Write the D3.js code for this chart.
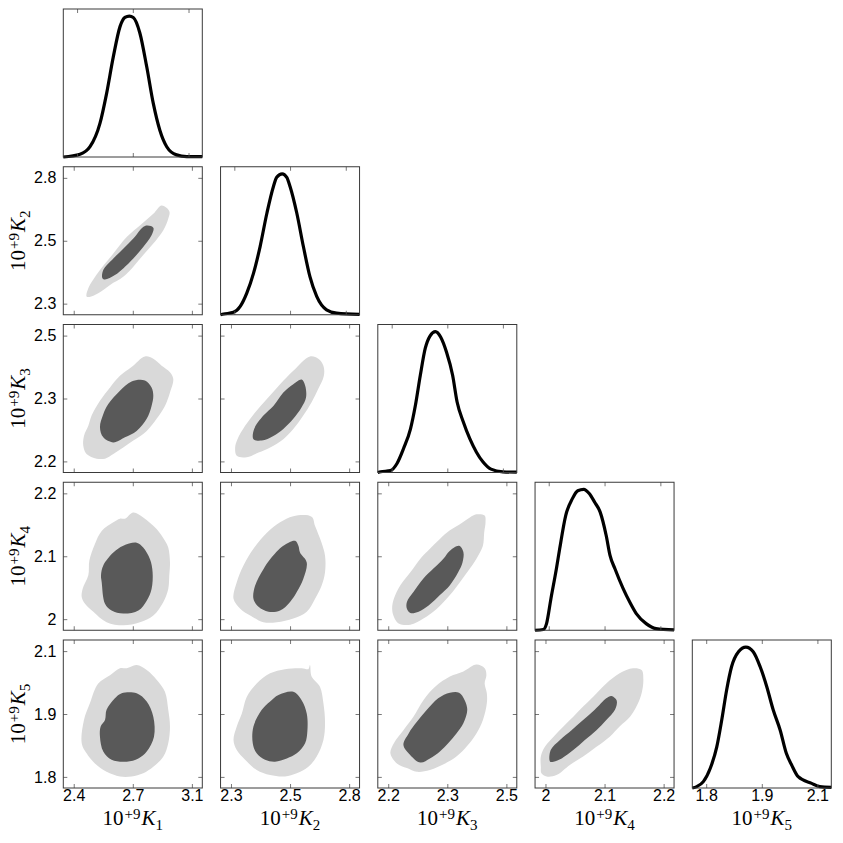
<!DOCTYPE html>
<html>
<head>
<meta charset="utf-8">
<script src="https://cdn.jsdelivr.net/npm/d3@7"></script>
<style>
  body { margin: 0; background: #fff; }
</style>
</head>
<body>
<div id="chart"></div>
<script>
// Corner plot of five rate constants (10^9 K_i): marginals on the diagonal,
// 68% / 95% credible regions below it.

const subscripts = ["1", "2", "3", "4", "5"];

// tick positions (data units) and the rounded labels printed under them
const tickValues = [
    [2.40, 2.74, 3.08],
    [2.275, 2.53, 2.785],
    [2.184, 2.32, 2.456],
    [1.998, 2.10, 2.202],
    [1.784, 1.92, 2.056]
];
const tickLabels = [
    ["2.4", "2.7", "3.1"],
    ["2.3", "2.5", "2.8"],
    ["2.2", "2.3", "2.5"],
    ["2", "2.1", "2.2"],
    ["1.8", "1.9", "2.1"]
];

// axis limits for the pair panels and (slightly wider) for the marginals
const pairDomains = [[2.34, 3.14], [2.23, 2.83], [2.16, 2.48], [1.98, 2.22], [1.76, 2.08]];
const diagDomains = [[2.316, 3.164], [2.212, 2.848], [2.150, 2.490], [1.973, 2.227], [1.750, 2.090]];

// marginal densities, [value, density / peak]
const densityK1 = [[2.316, 0], [2.418, 0.02], [2.479, 0.073], [2.54, 0.24], [2.58, 0.45], [2.621, 0.71],
    [2.662, 0.925], [2.692, 0.99], [2.719, 1.0], [2.743, 0.99], [2.783, 0.88], [2.825, 0.64],
    [2.865, 0.38], [2.905, 0.19], [2.947, 0.073], [3.007, 0.015], [3.069, 0.003], [3.164, 0.002]];
const densityK2 = [[2.212, 0], [2.226, 0.005], [2.271, 0.017], [2.302, 0.059], [2.332, 0.153], [2.363, 0.295],
    [2.393, 0.484], [2.424, 0.72], [2.454, 0.91], [2.469, 0.975], [2.494, 1.0], [2.515, 0.975], [2.53, 0.91],
    [2.561, 0.72], [2.591, 0.484], [2.621, 0.27], [2.652, 0.13], [2.697, 0.035], [2.743, 0.012], [2.848, 0.003]];
const densityK3 = [[2.15, 0], [2.157, 0.005], [2.181, 0.014], [2.197, 0.064], [2.213, 0.17], [2.23, 0.31],
    [2.242, 0.477], [2.254, 0.69], [2.266, 0.88], [2.278, 0.97], [2.291, 1.0], [2.304, 0.96], [2.318, 0.855],
    [2.333, 0.69], [2.344, 0.5], [2.359, 0.36], [2.375, 0.24], [2.391, 0.146], [2.407, 0.076],
    [2.427, 0.024], [2.456, 0.005], [2.49, 0.002]];
const densityK4 = [[1.973, 0], [1.988, 0.005], [1.994, 0.047], [2.002, 0.224], [2.012, 0.436], [2.018, 0.578],
    [2.029, 0.814], [2.041, 0.932], [2.051, 0.99], [2.062, 1.0], [2.072, 0.97], [2.082, 0.908],
    [2.092, 0.838], [2.103, 0.672], [2.11, 0.531], [2.119, 0.436], [2.134, 0.295], [2.146, 0.2],
    [2.158, 0.118], [2.176, 0.047], [2.194, 0.012], [2.227, 0.003]];
const densityK5 = [[1.75, 0], [1.761, 0.01], [1.777, 0.045], [1.794, 0.14], [1.81, 0.293], [1.822, 0.482],
    [1.834, 0.695], [1.846, 0.86], [1.863, 0.967], [1.881, 1.0], [1.899, 0.967], [1.916, 0.86],
    [1.932, 0.72], [1.948, 0.553], [1.965, 0.41], [1.98, 0.246], [1.993, 0.163], [2.009, 0.08],
    [2.042, 0.033], [2.062, 0.01], [2.09, 0.005]];

// credible regions, [x value, y value]; panel name is row-param then column-param
const k2k1Outer = [[2.474, 2.304], [2.484, 2.337], [2.551, 2.411], [2.628, 2.478], [2.705, 2.545], [2.781, 2.592],
    [2.858, 2.639], [2.906, 2.673], [2.95, 2.65], [2.944, 2.619], [2.915, 2.572], [2.858, 2.519], [2.8, 2.472],
    [2.743, 2.425], [2.685, 2.384], [2.609, 2.351], [2.541, 2.317], [2.49, 2.302]];
const k2k1Inner = [[2.565, 2.378], [2.57, 2.411], [2.628, 2.458], [2.685, 2.498], [2.743, 2.539], [2.81, 2.59],
    [2.858, 2.583], [2.848, 2.552], [2.8, 2.505], [2.743, 2.458], [2.685, 2.418], [2.637, 2.391], [2.58, 2.373]];

const k3k1Outer = [[2.532, 2.19], [2.474, 2.2], [2.455, 2.218], [2.459, 2.239], [2.484, 2.261], [2.503, 2.283],
    [2.551, 2.315], [2.609, 2.344], [2.666, 2.369], [2.733, 2.388], [2.81, 2.411], [2.858, 2.406],
    [2.906, 2.391], [2.954, 2.377], [2.973, 2.362], [2.954, 2.333], [2.925, 2.304], [2.877, 2.276],
    [2.82, 2.25], [2.743, 2.229], [2.685, 2.214], [2.628, 2.2], [2.58, 2.19]];
const k3k1Inner = [[2.551, 2.258], [2.57, 2.286], [2.599, 2.308], [2.666, 2.337], [2.733, 2.357], [2.81, 2.359],
    [2.848, 2.344], [2.858, 2.326], [2.848, 2.304], [2.82, 2.276], [2.762, 2.25], [2.695, 2.236],
    [2.628, 2.225], [2.57, 2.236]];

const k3k2Outer = [[2.3, 2.196], [2.293, 2.214], [2.303, 2.232], [2.336, 2.261], [2.379, 2.29], [2.43, 2.319],
    [2.487, 2.351], [2.544, 2.38], [2.616, 2.411], [2.652, 2.406], [2.674, 2.391], [2.676, 2.369],
    [2.652, 2.341], [2.623, 2.312], [2.587, 2.283], [2.544, 2.254], [2.501, 2.232], [2.444, 2.214],
    [2.394, 2.203], [2.343, 2.193]];
const k3k2Inner = [[2.372, 2.232], [2.375, 2.254], [2.415, 2.283], [2.458, 2.304], [2.501, 2.333], [2.544, 2.351],
    [2.58, 2.361], [2.595, 2.348], [2.599, 2.322], [2.58, 2.301], [2.544, 2.276], [2.501, 2.254],
    [2.458, 2.239], [2.408, 2.229]];

const k4k1Outer = [[2.446, 2.034], [2.451, 2.047], [2.484, 2.069], [2.49, 2.093], [2.522, 2.12], [2.561, 2.141],
    [2.628, 2.155], [2.666, 2.161], [2.695, 2.161], [2.743, 2.171], [2.8, 2.163], [2.877, 2.144],
    [2.925, 2.125], [2.944, 2.114], [2.954, 2.09], [2.95, 2.069], [2.944, 2.047], [2.916, 2.026],
    [2.858, 2.004], [2.781, 1.993], [2.685, 1.988], [2.589, 1.993], [2.513, 2.01], [2.465, 2.023]];
const k4k1Inner = [[2.561, 2.058], [2.557, 2.069], [2.57, 2.085], [2.628, 2.106], [2.685, 2.117], [2.762, 2.122],
    [2.8, 2.114], [2.839, 2.095], [2.854, 2.074], [2.848, 2.047], [2.82, 2.028], [2.772, 2.012],
    [2.685, 2.007], [2.618, 2.012], [2.58, 2.023]];

const k4k2Outer = [[2.286, 2.031], [2.3, 2.058], [2.329, 2.085], [2.372, 2.112], [2.43, 2.138], [2.487, 2.155],
    [2.544, 2.165], [2.623, 2.164], [2.638, 2.149], [2.666, 2.122], [2.681, 2.101], [2.681, 2.074],
    [2.666, 2.052], [2.638, 2.031], [2.602, 2.01], [2.544, 1.999], [2.473, 1.993], [2.415, 1.993],
    [2.358, 2.004], [2.315, 2.015]];
const k4k2Inner = [[2.372, 2.031], [2.379, 2.052], [2.415, 2.079], [2.444, 2.095], [2.501, 2.117], [2.552, 2.125],
    [2.566, 2.117], [2.573, 2.106], [2.602, 2.09], [2.587, 2.063], [2.559, 2.042], [2.53, 2.026],
    [2.487, 2.012], [2.437, 2.01], [2.394, 2.018]];

const k4k3Outer = [[2.197, 2.002], [2.193, 2.015], [2.197, 2.031], [2.212, 2.053], [2.235, 2.074], [2.258, 2.096],
    [2.28, 2.112], [2.303, 2.128], [2.326, 2.142], [2.349, 2.152], [2.372, 2.163], [2.387, 2.168],
    [2.406, 2.166], [2.408, 2.155], [2.405, 2.139], [2.402, 2.117], [2.391, 2.101], [2.372, 2.08],
    [2.349, 2.058], [2.326, 2.037], [2.296, 2.015], [2.265, 1.999], [2.235, 1.989], [2.208, 1.991]];
const k4k3Inner = [[2.227, 2.015], [2.227, 2.026], [2.242, 2.042], [2.265, 2.064], [2.288, 2.08], [2.311, 2.096],
    [2.326, 2.109], [2.347, 2.117], [2.357, 2.107], [2.355, 2.09], [2.345, 2.074], [2.326, 2.053],
    [2.303, 2.037], [2.277, 2.02], [2.254, 2.01], [2.235, 2.008]];

const k5k1Outer = [[2.446, 1.857], [2.459, 1.907], [2.493, 1.943], [2.541, 1.986], [2.609, 2.004], [2.666, 2.019],
    [2.705, 2.019], [2.762, 2.026], [2.82, 2.015], [2.877, 1.994], [2.925, 1.968], [2.944, 1.929],
    [2.954, 1.893], [2.944, 1.857], [2.916, 1.828], [2.858, 1.806], [2.8, 1.792], [2.733, 1.785],
    [2.666, 1.785], [2.589, 1.795], [2.522, 1.813], [2.474, 1.835]];
const k5k1Inner = [[2.551, 1.871], [2.555, 1.893], [2.58, 1.907], [2.589, 1.929], [2.637, 1.954], [2.676, 1.965],
    [2.762, 1.965], [2.82, 1.947], [2.858, 1.914], [2.862, 1.871], [2.82, 1.839], [2.772, 1.824],
    [2.705, 1.817], [2.618, 1.821], [2.57, 1.839]];

const k5k2Outer = [[2.286, 1.864], [2.3, 1.893], [2.322, 1.921], [2.343, 1.957], [2.386, 1.986], [2.444, 2.008],
    [2.508, 2.017], [2.58, 2.019], [2.609, 2.017], [2.616, 2.026], [2.623, 2.001], [2.659, 1.979],
    [2.674, 1.943], [2.681, 1.9], [2.674, 1.864], [2.645, 1.828], [2.609, 1.806], [2.559, 1.792],
    [2.508, 1.785], [2.444, 1.788], [2.386, 1.799], [2.336, 1.821], [2.3, 1.842]];
const k5k2Inner = [[2.369, 1.857], [2.372, 1.893], [2.408, 1.929], [2.444, 1.947], [2.48, 1.961], [2.544, 1.968],
    [2.58, 1.95], [2.602, 1.921], [2.605, 1.885], [2.595, 1.857], [2.559, 1.835], [2.516, 1.824],
    [2.465, 1.817], [2.422, 1.821], [2.386, 1.835]];

const k5k3Outer = [[2.189, 1.835], [2.197, 1.857], [2.219, 1.885], [2.242, 1.914], [2.265, 1.95], [2.292, 1.979],
    [2.326, 2.001], [2.357, 2.012], [2.387, 2.027], [2.406, 2.019], [2.41, 2.004], [2.406, 1.986],
    [2.411, 1.965], [2.411, 1.943], [2.402, 1.907], [2.387, 1.878], [2.364, 1.849], [2.341, 1.828],
    [2.315, 1.813], [2.28, 1.799], [2.25, 1.795], [2.227, 1.803], [2.204, 1.813]];
const k5k3Inner = [[2.219, 1.853], [2.231, 1.878], [2.25, 1.903], [2.273, 1.929], [2.299, 1.954], [2.326, 1.966],
    [2.347, 1.966], [2.36, 1.95], [2.366, 1.929], [2.357, 1.9], [2.341, 1.878], [2.322, 1.857],
    [2.303, 1.839], [2.28, 1.824], [2.258, 1.815], [2.235, 1.831]];

const k5k4Outer = [[1.99, 1.806], [1.99, 1.828], [1.997, 1.849], [2.012, 1.871], [2.029, 1.893], [2.046, 1.914],
    [2.063, 1.936], [2.08, 1.957], [2.103, 1.986], [2.126, 2.008], [2.149, 2.019], [2.164, 2.015],
    [2.167, 1.994], [2.164, 1.965], [2.155, 1.936], [2.144, 1.914], [2.126, 1.893], [2.109, 1.871],
    [2.086, 1.849], [2.063, 1.828], [2.04, 1.81], [2.017, 1.788], [2.0, 1.785], [1.991, 1.792]];
const k5k4Inner = [[2.006, 1.817], [2.007, 1.842], [2.023, 1.864], [2.043, 1.885], [2.063, 1.907], [2.083, 1.929],
    [2.103, 1.954], [2.112, 1.959], [2.121, 1.949], [2.118, 1.929], [2.103, 1.907], [2.086, 1.885],
    [2.066, 1.864], [2.046, 1.842], [2.026, 1.824], [2.012, 1.817]];

const densities = [densityK1, densityK2, densityK3, densityK4, densityK5];
const pairPanels = [
    {row: 1, col: 0, outer: k2k1Outer, inner: k2k1Inner},
    {row: 2, col: 0, outer: k3k1Outer, inner: k3k1Inner},
    {row: 2, col: 1, outer: k3k2Outer, inner: k3k2Inner},
    {row: 3, col: 0, outer: k4k1Outer, inner: k4k1Inner},
    {row: 3, col: 1, outer: k4k2Outer, inner: k4k2Inner},
    {row: 3, col: 2, outer: k4k3Outer, inner: k4k3Inner},
    {row: 4, col: 0, outer: k5k1Outer, inner: k5k1Inner},
    {row: 4, col: 1, outer: k5k2Outer, inner: k5k2Inner},
    {row: 4, col: 2, outer: k5k3Outer, inner: k5k3Inner},
    {row: 4, col: 3, outer: k5k4Outer, inner: k5k4Inner}
];

// layout
const width = 843, height = 843;
const panelW = 139, panelH = 148;
const colLeft = j => 63.3 + j * 157.25;
const rowTop = i => 9 + i * 157.75;
const n = 5;

const svg = d3.select("#chart")
    .append("svg")
    .attr("width", width)
    .attr("height", height);

const tickFont = "'Liberation Sans', Arial, sans-serif";
const labelFont = "'Liberation Serif', 'Times New Roman', serif";

// small inward ticks, no domain line (the frame is drawn separately)
function styleAxis(g) {
    g.select(".domain").remove();
    g.selectAll(".tick line").attr("stroke", "#555").attr("stroke-width", 0.8);
    g.selectAll(".tick text")
        .attr("fill", "#000")
        .attr("font-family", tickFont)
        .attr("font-size", 16);
}

function paramLabel(sel, k) {
    const t = sel.append("text")
        .attr("font-family", labelFont)
        .attr("font-size", 21)
        .attr("fill", "#000")
        .attr("text-anchor", "middle");
    t.append("tspan").text("10");
    t.append("tspan").attr("font-size", 15).attr("dx", 1).attr("dy", -6).text("+9");
    t.append("tspan").attr("font-style", "italic").attr("dx", 1).attr("dy", 6).text("K");
    t.append("tspan").attr("font-size", 15).attr("dy", 5).text(subscripts[k]);
    return t;
}

function frame(g) {
    g.append("rect")
        .attr("width", panelW)
        .attr("height", panelH)
        .attr("fill", "none")
        .attr("stroke", "#3a3a3a")
        .attr("stroke-width", 1);
}

// diagonal: marginal densities
for (let i = 0; i < n; i++) {
    const g = svg.append("g").attr("transform", `translate(${colLeft(i)},${rowTop(i)})`);
    const x = d3.scaleLinear().domain(diagDomains[i]).range([0, panelW]);
    const y = d3.scaleLinear().domain([0, 1.05]).range([panelH, 0]);

    const line = d3.line()
        .x(d => x(d[0]))
        .y(d => y(d[1]))
        .curve(d3.curveMonotoneX);

    g.append("path")
        .datum(densities[i])
        .attr("fill", "none")
        .attr("stroke", "#000")
        .attr("stroke-width", 3.2)
        .attr("stroke-linejoin", "round")
        .attr("d", line);

    g.append("g")
        .call(d3.axisTop(x).tickValues(tickValues[i]).tickSize(-4).tickFormat(""))
        .call(styleAxis);
    g.append("g")
        .attr("transform", `translate(0,${panelH})`)
        .call(d3.axisBottom(x).tickValues(tickValues[i]).tickSize(-4).tickPadding(2)
            .tickFormat(i === n - 1 ? (d, k) => tickLabels[i][k] : ""))
        .call(styleAxis);

    frame(g);
}

// below the diagonal: 2D credible regions
pairPanels.forEach(p => {
    const g = svg.append("g").attr("transform", `translate(${colLeft(p.col)},${rowTop(p.row)})`);
    const x = d3.scaleLinear().domain(pairDomains[p.col]).range([0, panelW]);
    const y = d3.scaleLinear().domain(pairDomains[p.row]).range([panelH, 0]);

    const area = d3.line()
        .x(d => x(d[0]))
        .y(d => y(d[1]))
        .curve(d3.curveCatmullRomClosed.alpha(0.5));

    g.append("path").datum(p.outer).attr("fill", "#d9d9d9").attr("d", area);
    g.append("path").datum(p.inner).attr("fill", "#595959").attr("d", area);

    const isBottom = p.row === n - 1;
    const isLeft = p.col === 0;

    g.append("g")
        .call(d3.axisTop(x).tickValues(tickValues[p.col]).tickSize(-4).tickFormat(""))
        .call(styleAxis);
    g.append("g")
        .attr("transform", `translate(0,${panelH})`)
        .call(d3.axisBottom(x).tickValues(tickValues[p.col]).tickSize(-4).tickPadding(2)
            .tickFormat(isBottom ? (d, k) => tickLabels[p.col][k] : ""))
        .call(styleAxis);
    g.append("g")
        .call(d3.axisLeft(y).tickValues(tickValues[p.row]).tickSize(-4).tickPadding(7)
            .tickFormat(isLeft ? (d, k) => tickLabels[p.row][k] : ""))
        .call(styleAxis);
    g.append("g")
        .attr("transform", `translate(${panelW},0)`)
        .call(d3.axisRight(y).tickValues(tickValues[p.row]).tickSize(-4).tickFormat(""))
        .call(styleAxis);

    frame(g);
});

// axis titles: one under every column, one left of rows 2-5
for (let k = 0; k < n; k++) {
    paramLabel(svg, k)
        .attr("x", colLeft(k) + panelW / 2)
        .attr("y", rowTop(n - 1) + panelH + 37);
}
for (let k = 1; k < n; k++) {
    paramLabel(svg, k)
        .attr("transform", `translate(25,${rowTop(k) + panelH / 2}) rotate(-90)`);
}
</script>
</body>
</html>
